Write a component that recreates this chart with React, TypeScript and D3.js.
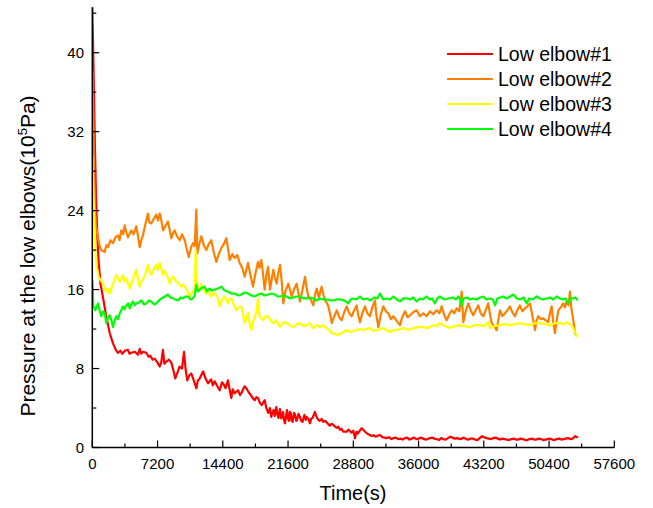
import React from "react";
import * as d3 from "d3";

const xTicks = [0, 7200, 14400, 21600, 28800, 36000, 43200, 50400, 57600];
const yTicks = [0, 8, 16, 24, 32, 40];
const seriesNames = ["Low elbow#1", "Low elbow#2", "Low elbow#3", "Low elbow#4"];
const seriesColors = ["#ff0000", "#ff8000", "#ffff00", "#00ff00"];

const elbow1: [number, number][] = [
  [0, 44.7], [80, 41], [180, 36], [300, 30], [420, 25], [550, 21.5], [700, 18.8], [900, 16.6], [1180, 15.2],
  [1500, 13.5], [1920, 11.6], [2300, 10.5], [2600, 9.9], [2840, 9.6], [3100, 9.8], [3300, 9.5], [3600, 9.8],
  [3940, 9.9], [4100, 9.5], [4300, 9.6], [4700, 9.7], [5040, 9.4], [5230, 10.0], [5400, 9.5], [5600, 9.7],
  [5960, 9.6], [6200, 9.2], [6400, 9.3], [6650, 8.9], [6890, 9.0], [7200, 8.6], [7440, 8.2], [7600, 8.6],
  [7800, 9.9], [7950, 8.5], [8170, 8.7], [8450, 8.9], [8720, 8.6], [8950, 7.8], [9160, 7.0], [9400, 7.6],
  [9630, 8.2], [9900, 8.0], [10120, 9.7], [10300, 7.9], [10480, 6.8], [10700, 7.3], [10920, 7.5], [11200, 6.8],
  [11480, 6.0], [11650, 6.8], [11800, 6.9], [12000, 7.3], [12220, 7.7], [12500, 7.0], [12770, 6.5], [13100, 6.9],
  [13300, 6.3], [13500, 6.7], [13800, 6.2], [14060, 5.8], [14300, 6.6], [14500, 6.4], [14700, 6.0], [14970, 6.8],
  [15150, 5.9], [15340, 5.0], [15500, 5.9], [15700, 5.5], [16080, 5.8], [16300, 5.3], [16500, 5.6], [16800, 6.2],
  [17000, 6.0], [17250, 5.6], [17500, 5.3], [17700, 5.0], [17920, 4.8], [18100, 5.1], [18300, 5.0], [18500, 4.5],
  [18690, 4.3], [19020, 4.8], [19200, 4.0], [19420, 3.5], [19600, 4.0], [19750, 3.1], [20000, 3.8], [20150, 3.2],
  [20300, 4.1], [20450, 3.3], [20550, 3.0], [20700, 3.9], [20850, 2.95], [21050, 3.6], [21150, 2.8], [21260, 2.45],
  [21480, 3.8], [21600, 2.9], [21700, 2.7], [21800, 3.6], [21900, 3.5], [22000, 2.7], [22100, 2.6], [22250, 3.5],
  [22350, 3.4], [22500, 2.7], [22600, 2.8], [22750, 3.4], [22920, 3.1], [23050, 2.7], [23200, 2.6], [23400, 3.3],
  [23550, 2.8], [23660, 3.1], [23850, 2.9], [24020, 2.45], [24150, 2.9], [24300, 3.0], [24570, 3.6], [24700, 3.2],
  [24800, 3.0], [24950, 2.8], [25100, 2.7], [25300, 2.9], [25490, 2.6], [25700, 2.7], [25900, 2.5], [26200, 2.2],
  [26400, 2.4], [26590, 2.3], [26800, 2.1], [27000, 2.0], [27150, 2.1], [27330, 1.8], [27500, 1.9], [27700, 1.6],
  [28070, 1.6], [28250, 1.8], [28400, 1.7], [28600, 1.5], [28800, 1.7], [28990, 0.93], [29150, 1.6], [29300, 1.4],
  [29500, 1.7], [29730, 1.95], [30000, 1.7], [30280, 1.45], [30550, 1.3], [30830, 1.17], [31050, 1.25], [31250, 1.1],
  [31500, 1.2], [31750, 1.27], [32000, 1.05], [32250, 1.0], [32500, 0.95], [32750, 1.05], [33000, 0.85], [33250, 0.95],
  [33500, 1.0], [33750, 0.85], [34000, 0.9], [34250, 0.8], [34500, 0.95], [34750, 1.0], [35000, 0.8], [35250, 0.9],
  [35500, 1.0], [35750, 0.85], [36000, 0.9], [36250, 1.0], [36500, 0.9], [36750, 0.8], [37000, 0.85], [37250, 0.95],
  [37500, 1.0], [37750, 0.9], [38000, 0.85], [38250, 0.75], [38500, 0.95], [38750, 0.85], [39000, 0.8], [39250, 0.95],
  [39500, 1.1], [39750, 1.0], [40000, 0.9], [40250, 0.95], [40500, 0.85], [40750, 0.9], [41000, 1.0], [41250, 0.85],
  [41500, 0.8], [41750, 0.9], [42000, 0.9], [42250, 0.8], [42500, 0.75], [42750, 0.95], [43000, 1.15], [43250, 1.05],
  [43500, 0.95], [43750, 0.9], [44000, 0.85], [44250, 0.95], [44500, 1.0], [44750, 0.9], [45000, 0.8], [45250, 0.9],
  [45500, 0.85], [45750, 0.8], [46000, 0.75], [46250, 0.85], [46500, 0.9], [46750, 0.8], [47000, 0.8], [47250, 0.9],
  [47500, 0.85], [47750, 0.75], [48000, 0.75], [48250, 0.85], [48500, 0.9], [48750, 0.8], [49000, 0.8], [49250, 0.9],
  [49500, 0.85], [49750, 0.75], [50000, 0.8], [50250, 0.85], [50500, 0.9], [50750, 0.8], [51000, 0.75], [51250, 0.85],
  [51500, 0.9], [51750, 0.8], [52000, 0.85], [52250, 0.9], [52500, 0.95], [52750, 0.85], [53000, 0.9], [53300, 1.15],
  [53600, 1.0],
];

const elbow2: [number, number][] = [
  [0, 38.2], [100, 34], [200, 28], [270, 24.5], [400, 22.5], [630, 21.2], [850, 20.3], [1000, 20.0],
  [1370, 19.8], [1550, 20.5], [1740, 20.3], [2000, 21.0], [2290, 20.7], [2550, 21.3], [2840, 21.5], [3000, 21.0],
  [3200, 22.0], [3400, 21.6], [3580, 22.5], [3750, 21.8], [3940, 21.3], [4100, 21.6], [4300, 22.0], [4550, 21.6],
  [4850, 22.4], [5050, 21.4], [5230, 20.3], [5400, 21.0], [5590, 21.5], [5850, 22.6], [6140, 23.7], [6300, 22.8],
  [6510, 22.7], [6800, 23.2], [7060, 23.6], [7250, 23.0], [7440, 23.7], [7600, 23.1], [7800, 22.0], [8100, 22.5],
  [8350, 22.9], [8550, 22.0], [8720, 21.2], [8900, 21.7], [9090, 22.0], [9350, 21.4], [9650, 21.0], [9900, 21.6],
  [10200, 21.0], [10400, 20.2], [10640, 19.3], [10900, 20.3], [11110, 20.7], [11300, 20.4], [11480, 24.1], [11590, 19.7],
  [11800, 20.6], [12030, 21.4], [12300, 20.5], [12580, 20.0], [12850, 20.6], [13130, 21.0], [13400, 19.8], [13690, 18.8],
  [13950, 19.6], [14240, 20.2], [14500, 20.6], [14790, 21.2], [15000, 20.0], [15160, 19.0], [15450, 19.6], [15710, 19.2],
  [16000, 19.5], [16260, 18.7], [16550, 18.2], [16810, 17.3], [17000, 18.0], [17180, 18.7], [17450, 17.5], [17730, 16.3],
  [18000, 17.6], [18280, 18.8], [18450, 18.2], [18650, 19.0], [18850, 17.5], [19020, 16.0], [19200, 17.4], [19390, 18.3],
  [19610, 16.0], [19800, 17.1], [19970, 18.0], [20150, 17.2], [20350, 16.6], [20500, 17.6], [20710, 18.5], [20900, 16.8],
  [21080, 14.6], [21300, 15.8], [21630, 16.6], [21800, 16.0], [22000, 15.3], [22300, 16.1], [22550, 16.6], [22750, 15.6],
  [22920, 14.8], [23200, 16.0], [23470, 17.3], [23650, 16.2], [23830, 15.3], [24100, 15.0], [24390, 14.4], [24550, 15.4],
  [24760, 16.1], [25000, 15.2], [25310, 16.3], [25500, 15.5], [25680, 14.9], [25850, 14.7], [26040, 14.3], [26250, 13.5],
  [26420, 12.6], [26700, 13.3], [26970, 13.9], [27250, 13.2], [27520, 12.9], [27800, 13.7], [28070, 14.3], [28350, 13.6],
  [28620, 13.3], [28900, 13.9], [29170, 14.4], [29350, 13.4], [29540, 12.7], [29800, 13.6], [30090, 14.3], [30350, 13.6],
  [30640, 13.3], [30900, 14.2], [31190, 14.9], [31350, 13.4], [31560, 12.2], [31850, 13.5], [32110, 14.3], [32400, 13.8],
  [32660, 13.6], [32950, 13.0], [33210, 13.3], [33600, 12.8], [33950, 12.4], [34200, 13.2], [34500, 13.8], [34800, 13.2],
  [35060, 13.4], [35400, 13.7], [35790, 13.9], [36150, 13.3], [36520, 13.6], [36900, 13.3], [37260, 13.8], [37600, 13.5],
  [38000, 13.9], [38300, 13.6], [38550, 14.3], [38800, 13.5], [39100, 12.9], [39400, 13.5], [39660, 13.9], [39950, 13.6],
  [40210, 14.1], [40500, 13.8], [40760, 15.8], [40940, 12.7], [41200, 13.8], [41490, 14.6], [41750, 13.9], [42040, 13.4],
  [42300, 13.9], [42590, 14.4], [42850, 13.6], [43140, 13.3], [43400, 13.9], [43690, 14.6], [43900, 13.4], [44070, 12.6],
  [44350, 12.3], [44620, 11.9], [44800, 12.9], [44990, 13.9], [45250, 13.3], [45540, 13.6], [45800, 13.9], [46090, 14.3],
  [46350, 13.7], [46640, 13.3], [46900, 13.9], [47190, 14.4], [47450, 13.8], [47750, 14.1], [48000, 14.3], [48300, 14.6],
  [48550, 13.4], [48850, 11.9], [49000, 12.8], [49210, 13.3], [49500, 13.0], [49760, 13.1], [50000, 12.9], [50310, 12.7],
  [50500, 13.6], [50690, 14.3], [50850, 12.8], [51050, 11.6], [51250, 12.9], [51420, 13.9], [51700, 14.2], [51970, 14.6],
  [52150, 14.2], [52340, 14.8], [52550, 14.4], [52710, 15.8], [52850, 14.2], [53010, 13.3], [53150, 12.4], [53260, 11.6],
  [53450, 11.3],
];

const elbow3: [number, number][] = [
  [0, 29.5], [70, 27], [150, 25.1], [250, 22], [330, 20.1], [450, 18.5], [700, 17.3], [950, 16.9],
  [1180, 16.6], [1350, 16.2], [1540, 15.8], [1720, 16.1], [1920, 15.6], [2100, 16.1], [2280, 16.6], [2450, 16.9],
  [2650, 17.5], [2850, 17.1], [3020, 16.8], [3200, 17.1], [3390, 17.5], [3550, 16.8], [3750, 17.1], [3950, 16.6],
  [4130, 16.1], [4300, 16.6], [4490, 17.1], [4680, 17.6], [4860, 18.0], [5050, 17.0], [5230, 16.3], [5400, 16.8],
  [5590, 17.0], [5850, 17.6], [6140, 18.5], [6300, 17.9], [6510, 17.5], [6800, 18.1], [7060, 18.5], [7250, 18.0],
  [7440, 18.7], [7600, 18.2], [7800, 17.5], [8000, 17.9], [8170, 17.5], [8350, 17.2], [8540, 16.6], [8700, 17.0],
  [8900, 17.3], [9100, 17.1], [9270, 16.8], [9550, 16.6], [9820, 16.3], [10100, 16.5], [10370, 16.0], [10550, 15.7],
  [10740, 15.3], [10900, 15.6], [11110, 15.8], [11300, 15.7], [11410, 20.0], [11550, 16.0], [11800, 16.3], [11990, 16.6],
  [12250, 16.0], [12540, 15.6], [12800, 15.9], [13090, 15.3], [13400, 15.7], [13690, 15.5], [13900, 15.0], [14060, 14.3],
  [14300, 14.9], [14610, 15.3], [14800, 14.9], [14970, 14.6], [15150, 15.0], [15340, 15.1], [15600, 14.5], [15890, 13.9],
  [16150, 14.2], [16440, 14.3], [16650, 13.4], [16810, 12.6], [17000, 13.2], [17180, 13.6], [17350, 12.6], [17550, 11.9],
  [17750, 12.7], [17920, 13.3], [18100, 13.6], [18290, 15.1], [18400, 13.8], [18470, 13.3], [18650, 13.1], [18840, 12.9],
  [19000, 13.2], [19200, 13.3], [19390, 13.3], [19700, 12.8], [19970, 12.6], [20300, 12.9], [20710, 12.2], [21100, 12.7],
  [21450, 12.6], [21800, 12.4], [22180, 12.2], [22550, 12.5], [22920, 12.6], [23300, 12.3], [23660, 12.4], [24000, 12.6],
  [24390, 12.1], [24750, 12.4], [25130, 12.2], [25500, 12.4], [25860, 12.1], [26150, 11.9], [26420, 11.6], [26800, 11.5],
  [27140, 11.4], [27450, 11.6], [27700, 11.7], [28100, 11.9], [28440, 11.7], [28800, 11.8], [29170, 11.9], [29550, 12.0],
  [29900, 11.9], [30250, 12.0], [30640, 12.1], [31000, 11.8], [31380, 11.9], [31750, 12.0], [32110, 12.1], [32500, 11.9],
  [32850, 11.7], [33200, 11.9], [33590, 11.9], [33950, 12.0], [34320, 12.1], [34850, 11.9], [35420, 12.1], [35950, 12.2],
  [36520, 12.2], [37050, 12.1], [37630, 12.4], [38000, 12.3], [38360, 12.6], [38900, 12.3], [39470, 12.1], [40000, 12.3],
  [40570, 12.4], [41100, 12.3], [41680, 12.2], [42200, 12.4], [42780, 12.4], [43200, 12.3], [43690, 12.7], [43880, 12.1],
  [44400, 12.3], [44990, 12.4], [45500, 12.5], [46090, 12.4], [46600, 12.5], [47190, 12.6], [47700, 12.5], [48300, 12.4],
  [48850, 12.6], [49400, 12.6], [49950, 12.5], [50500, 12.4], [51050, 12.6], [51610, 12.6], [52000, 12.5], [52340, 12.7],
  [52650, 12.5], [52900, 12.4], [53260, 11.7], [53510, 11.2],
];

const elbow4: [number, number][] = [
  [0, 17.0], [60, 16.0], [110, 14.3], [330, 13.9], [480, 14.3], [630, 14.6], [800, 13.9], [990, 13.3],
  [1180, 13.8], [1370, 13.6], [1540, 12.6], [1720, 13.1], [1920, 13.4], [2100, 12.9], [2280, 12.2], [2450, 12.8],
  [2650, 13.3], [2850, 13.0], [3020, 13.6], [3200, 13.9], [3390, 14.3], [3550, 14.0], [3750, 14.4], [3950, 14.6],
  [4130, 14.1], [4300, 14.5], [4490, 14.8], [4680, 14.4], [4860, 14.6], [5150, 14.7], [5410, 14.9], [5700, 14.5],
  [5960, 14.6], [6250, 14.9], [6510, 14.8], [6800, 14.5], [7060, 14.6], [7350, 14.9], [7610, 15.1], [8000, 15.3],
  [8350, 15.5], [8600, 15.2], [8900, 15.1], [9200, 15.0], [9460, 14.9], [9750, 15.2], [10010, 15.1], [10300, 15.3],
  [10560, 15.3], [10850, 15.0], [11110, 15.1], [11300, 15.4], [11480, 16.5], [11650, 15.8], [11850, 16.0], [12100, 16.2],
  [12400, 16.3], [12650, 15.8], [12950, 16.1], [13200, 15.9], [13500, 16.0], [13850, 16.1], [14240, 16.3], [14600, 15.9],
  [14970, 15.8], [15350, 15.6], [15710, 15.6], [16100, 15.4], [16440, 15.5], [16800, 15.7], [17180, 15.6], [17550, 15.4],
  [17920, 15.3], [18300, 15.5], [18650, 15.6], [19000, 15.4], [19390, 15.5], [19800, 15.6], [20160, 15.5], [20450, 15.3],
  [20710, 15.3], [21100, 15.4], [21450, 15.3], [21800, 15.1], [22180, 15.2], [22550, 15.3], [22920, 15.3], [23300, 15.1],
  [23660, 15.1], [24000, 15.2], [24390, 15.1], [24750, 14.9], [25130, 15.1], [25500, 15.0], [25860, 15.0], [26200, 14.9],
  [26590, 14.9], [26950, 15.0], [27330, 15.0], [27800, 14.9], [28250, 14.6], [28500, 15.0], [28800, 15.1], [29150, 15.0],
  [29540, 15.3], [29900, 15.0], [30280, 15.1], [30700, 14.9], [31100, 15.2], [31450, 15.1], [31750, 15.6], [32100, 15.0],
  [32480, 15.1], [32850, 15.0], [33220, 15.3], [33600, 15.0], [33950, 14.8], [34300, 15.1], [34690, 15.1], [35100, 15.0],
  [35400, 15.2], [35790, 14.8], [36150, 15.1], [36500, 15.0], [36890, 15.3], [37250, 15.0], [37500, 15.1], [37800, 14.6],
  [38050, 15.1], [38360, 15.3], [38800, 15.0], [39280, 15.1], [39800, 15.2], [40100, 15.0], [40400, 15.3], [40600, 15.0],
  [40760, 14.4], [40950, 15.1], [41350, 15.2], [41700, 15.0], [42040, 15.1], [42400, 15.0], [42800, 15.2], [43140, 15.3],
  [43500, 15.0], [43900, 15.1], [44200, 15.0], [44440, 14.4], [44700, 15.1], [45000, 15.2], [45360, 15.3], [45700, 15.1],
  [46100, 15.3], [46460, 15.5], [46850, 15.1], [47200, 15.0], [47600, 15.2], [47930, 14.6], [48200, 15.1], [48600, 15.0],
  [49030, 15.3], [49400, 15.1], [49750, 15.0], [50130, 15.1], [50500, 15.2], [50850, 15.0], [51240, 15.3], [51600, 15.1],
  [51950, 15.0], [52250, 15.1], [52520, 14.6], [52800, 15.1], [53070, 15.1], [53300, 15.2], [53560, 14.9],
];

const allSeries = [elbow1, elbow2, elbow3, elbow4];

const W = 653;
const H = 508;
const FONT = "Arial, 'Liberation Sans', sans-serif";

export default function App() {
  const x = d3.scaleLinear().domain([0, 57600]).range([92.3, 614.3]);
  const y = d3.scaleLinear().domain([0, 44.6]).range([447.5, 7.3]);
  const line = d3
    .line<[number, number]>()
    .x((d) => x(d[0]))
    .y((d) => y(d[1]));

  const xMinor = d3.range(3600, 57600, 7200);
  const yMinor = d3.range(4, 44.6, 8);

  return (
    <svg
      width={W}
      height={H}
      style={{ position: "absolute", left: 0, top: 0, background: "#fff" }}
      fontFamily={FONT}
    >
      <defs>
        <clipPath id="plot">
          <rect x={92} y={y(44.6)} width={530} height={y(0) - y(44.6)} />
        </clipPath>
      </defs>
      <g clipPath="url(#plot)">
        {allSeries.map((s, i) => (
          <path
            key={i}
            d={line(s) || ""}
            fill="none"
            stroke={seriesColors[i]}
            strokeWidth={2.2}
            strokeLinejoin="round"
          />
        ))}
      </g>
      <line x1={x(0)} x2={x(57600)} y1={y(0)} y2={y(0)} stroke="#000" strokeWidth={1.5} />
      <line x1={x(0)} x2={x(0)} y1={y(0)} y2={y(44.6)} stroke="#000" strokeWidth={1.5} />
      {xTicks.map((t) => (
        <g key={"xt" + t}>
          <line x1={x(t)} x2={x(t)} y1={y(0)} y2={y(0) - 7} stroke="#000" strokeWidth={1.2} />
          <text x={x(t)} y={469} textAnchor="middle" fontSize={15}>
            {t}
          </text>
        </g>
      ))}
      {xMinor.map((t) => (
        <line key={"xm" + t} x1={x(t)} x2={x(t)} y1={y(0)} y2={y(0) - 4} stroke="#000" strokeWidth={1.2} />
      ))}
      {yTicks.map((v) => (
        <g key={"yt" + v}>
          <line x1={x(0)} x2={x(0) + 7} y1={y(v)} y2={y(v)} stroke="#000" strokeWidth={1.2} />
          <text x={84} y={y(v) + 5.5} textAnchor="end" fontSize={15}>
            {v}
          </text>
        </g>
      ))}
      {yMinor.map((v) => (
        <line key={"ym" + v} x1={x(0)} x2={x(0) + 4} y1={y(v)} y2={y(v)} stroke="#000" strokeWidth={1.2} />
      ))}
      <text x={353} y={500} textAnchor="middle" fontSize={20}>
        Time(s)
      </text>
      <text transform="translate(35,256) rotate(-90)" textAnchor="middle" fontSize={21}>
        Pressure at the low elbows(10
        <tspan fontSize={13} dy={-8}>
          5
        </tspan>
        <tspan dy={8}>Pa)</tspan>
      </text>
      {seriesNames.map((n, i) => (
        <g key={n}>
          <line x1={447} x2={493} y1={54 + i * 25} y2={54 + i * 25} stroke={seriesColors[i]} strokeWidth={2} />
          <text x={498} y={54 + i * 25 + 7} fontSize={19.5}>
            {n}
          </text>
        </g>
      ))}
    </svg>
  );
}
